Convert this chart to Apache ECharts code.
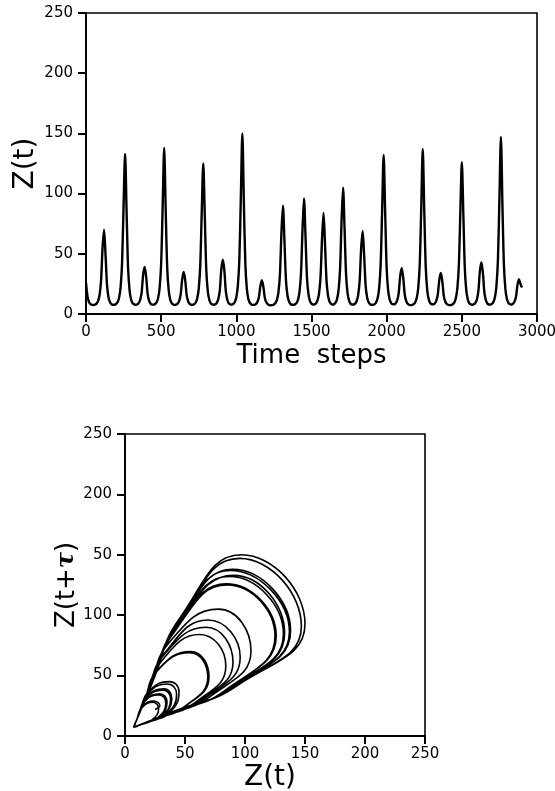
<!DOCTYPE html>
<html>
<head>
<meta charset="utf-8">
<script src="https://cdn.jsdelivr.net/npm/echarts@6/dist/echarts.min.js"></script>
<style>
  html, body { margin: 0; padding: 0; background: #fff; }
  #chart { width: 555px; height: 791px; }
</style>
</head>
<body>
<div id="chart"></div>
<script>
// Z(t) sampled every 10 time steps, split into blocks of 500 steps.
const sampleStep = 10;
const zBlock0 = [ // t = 0 .. 490
  26, 14.6, 10.0, 8.2, 7.6, 7.5, 7.8, 8.6, 10.7, 15.6,
  27.3, 54.6, 70, 49, 23.8, 13.7, 9.7, 8.1, 7.6, 7.7,
  8.3, 9.7, 13.4, 22.1, 42.5, 90.4, 133, 85, 38.2, 19.5,
  12, 9, 8.0, 7.7, 7.9, 9.0, 11.6, 17.8, 32.4, 39,
  31.2, 16.7, 10.9, 8.5, 7.8, 7.8, 8.3, 9.7, 13.4, 22
];
const zBlock1 = [ // t = 500 .. 990
  42.2, 89.7, 138, 87, 39, 19.8, 12.1, 9.0, 7.9, 7.6,
  7.8, 8.7, 11, 16.4, 29, 35, 28, 15.4, 10.4, 8.3,
  7.7, 7.7, 8.2, 9.6, 13, 21.1, 40.2, 85, 125, 82.5,
  37.2, 19.1, 11.8, 8.9, 8.0, 7.7, 8.1, 9.3, 12.4, 19.7,
  36.9, 45, 36.7, 18.9, 11.8, 8.9, 8.0, 7.8, 8.4, 9.9
];
const zBlock2 = [ // t = 1000 .. 1490
  13.9, 23.3, 45.3, 97, 150, 93, 41.4, 20.8, 12.5, 9.2,
  7.9, 7.6, 7.6, 8.3, 9.9, 13.9, 23.2, 28, 22.4, 13.2,
  9.5, 8.0, 7.4, 7.3, 7.4, 7.9, 9.0, 11.7, 17.9, 32.7,
  67.5, 90, 61, 28.6, 15.6, 10.5, 8.4, 7.7, 7.6, 8.0,
  9.0, 11.8, 18.2, 33.4, 69.1, 96, 65, 30.2, 16.3, 10.7
];
const zBlock3 = [ // t = 1500 .. 1990
  8.6, 7.9, 8.0, 8.9, 11.3, 17, 30.5, 62.2, 84, 58,
  27.4, 15.2, 10.3, 8.5, 7.9, 8.2, 9.4, 12.4, 19.8, 37.1,
  77.7, 105, 70.5, 32.4, 17.2, 11.1, 8.6, 7.9, 7.9, 8.6,
  10.6, 15.5, 26.9, 53.8, 69, 49, 23.8, 13.7, 9.7, 8.1,
  7.6, 7.7, 8.2, 9.7, 13.2, 21.5, 41, 87, 132, 84.5
];
const zBlock4 = [ // t = 2000 .. 2490
  38, 19.4, 12, 9.1, 8.1, 8.1, 9.0, 11.4, 17.4, 31.5,
  38, 30.4, 16.4, 10.7, 8.5, 7.6, 7.4, 7.6, 8.2, 9.7,
  13.2, 21.6, 41.3, 87.7, 137, 86.3, 38.7, 19.7, 12.1, 9.0,
  8.1, 8.0, 8.7, 10.9, 16, 28.2, 34, 27.2, 15.1, 10.2,
  8.3, 7.5, 7.4, 7.5, 8.1, 9.5, 13, 21, 39.9, 84.4
];
const zBlock5 = [ // t = 2500 .. 2900
  126, 83, 37.4, 19.2, 11.9, 8.9, 8.0, 7.7, 8.1, 9.2,
  12.1, 19, 35.3, 43, 34.4, 18, 11.4, 8.75, 7.9, 7.8,
  8.35, 9.9, 13.8, 23, 44.7, 95.5, 147, 91, 40.6, 20.4,
  12.4, 9.2, 8.1, 7.9, 8.4, 10.1, 14.2, 24, 29, 25,
  22
];
// delay used for the reconstructed attractor, in samples
const lagSamples = 1;

// axis ticks
const timeTicks = [0, 500, 1000, 1500, 2000, 2500, 3000];
const zTicks = [0, 50, 100, 150, 200, 250];
const phaseYTickLabels = ['0', '50', '100', '50', '200', '250'];

const z = [].concat(zBlock0, zBlock1, zBlock2, zBlock3, zBlock4, zBlock5);
const seriesTime = z.map((v, i) => [i * sampleStep, v]);
const seriesPhase = [];
for (let i = 0; i + lagSamples < z.length; i++) {
  seriesPhase.push([z[i], z[i + lagSamples]]);
}

const FONT = 'DejaVu Sans';
const axisLine = { show: true, onZero: false, lineStyle: { color: '#000', width: 1.8 } };
const axisTick = { show: true, inside: false, length: 8, lineStyle: { color: '#000', width: 2 } };
const plain = (v) => String(v);
const xTickLabel = { color: '#000', fontSize: 15, fontFamily: FONT, margin: 11, formatter: plain };
const yTickLabel = { color: '#000', fontSize: 15, fontFamily: FONT, margin: 13, formatter: plain };

const chart = echarts.init(document.getElementById('chart'), null, { renderer: 'canvas' });
chart.setOption({
  backgroundColor: '#fff',
  animation: false,
  grid: [
    { left: 86, top: 13, width: 451, height: 301, containLabel: false, outerBoundsMode: 'none',
      show: true, borderColor: '#000', borderWidth: 1.6 },
    { left: 125, top: 434, width: 300, height: 302, containLabel: false, outerBoundsMode: 'none',
      show: true, borderColor: '#000', borderWidth: 1.6 }
  ],
  xAxis: [
    {
      gridIndex: 0, type: 'value',
      min: timeTicks[0], max: timeTicks[timeTicks.length - 1], interval: 500,
      axisLine, axisTick, splitLine: { show: false },
      axisLabel: xTickLabel,
      name: 'Time  steps', nameLocation: 'middle', nameGap: 29, nameMoveOverlap: false,
      nameTextStyle: { color: '#000', fontSize: 26, fontFamily: FONT }
    },
    {
      gridIndex: 1, type: 'value', min: 0, max: 250, interval: 50,
      axisLine, axisTick, splitLine: { show: false },
      axisLabel: xTickLabel,
      name: 'Z(t)', nameLocation: 'middle', nameGap: 28, nameMoveOverlap: false,
      nameTextStyle: { color: '#000', fontSize: 28, fontFamily: FONT, padding: [0, 10, 0, 0] }
    }
  ],
  yAxis: [
    {
      gridIndex: 0, type: 'value',
      min: zTicks[0], max: zTicks[zTicks.length - 1], interval: 50,
      axisLine, axisTick, splitLine: { show: false },
      axisLabel: yTickLabel,
      name: 'Z(t)', nameLocation: 'middle', nameGap: 46, nameMoveOverlap: false,
      nameTextStyle: { color: '#000', fontSize: 28, fontFamily: FONT }
    },
    {
      gridIndex: 1, type: 'value', min: 0, max: 250, interval: 50,
      axisLine, axisTick, splitLine: { show: false },
      axisLabel: Object.assign({}, yTickLabel, {
        formatter: (v) => phaseYTickLabels[zTicks.indexOf(v)]
      }),
      name: '{n|Z(t+}{tau|τ}{n|)}', nameLocation: 'middle', nameGap: 45, nameMoveOverlap: false,
      nameTextStyle: {
        color: '#000', fontSize: 26, fontFamily: FONT,
        rich: {
          n: { fontSize: 26, fontFamily: FONT, color: '#000' },
          tau: { fontSize: 24, fontFamily: 'DejaVu Serif', fontWeight: 'bold', fontStyle: 'italic', color: '#000' }
        }
      }
    }
  ],
  series: [
    {
      type: 'line', xAxisIndex: 0, yAxisIndex: 0,
      data: seriesTime, showSymbol: false, smooth: 0.3,
      lineStyle: { color: '#000', width: 2.4 }
    },
    {
      type: 'line', xAxisIndex: 1, yAxisIndex: 1,
      data: seriesPhase, showSymbol: false, smooth: 0.5,
      lineStyle: { color: '#000', width: 1.6 }
    }
  ]
});
</script>
</body>
</html>
